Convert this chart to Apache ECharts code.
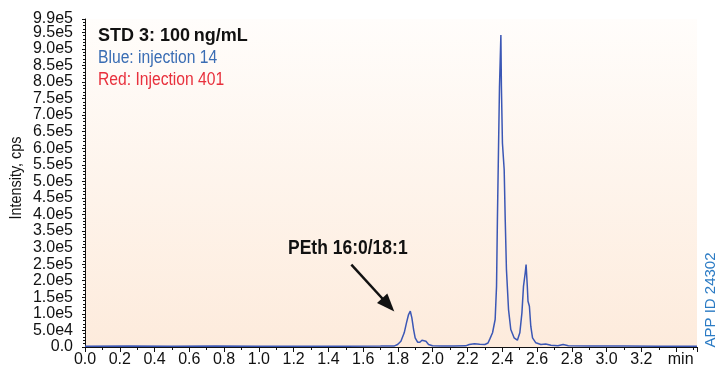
<!DOCTYPE html>
<html>
<head>
<meta charset="utf-8">
<script src="https://cdn.jsdelivr.net/npm/echarts@6/dist/echarts.min.js"></script>
<style>
  html, body { margin: 0; padding: 0; background: #ffffff; }
  #chart { width: 720px; height: 368px; }
</style>
</head>
<body>
<div id="chart"></div>
<script>
// Extracted ion chromatogram, STD 3 (100 ng/mL), injection 14
const retentionTimes = [
  0.00, 0.25, 0.50, 0.75, 1.00, 1.25, 1.50, 1.70, 1.78,
  1.798, 1.817, 1.836, 1.849, 1.861, 1.871, 1.880, 1.890, 1.899,
  1.913, 1.926, 1.938, 1.949, 1.961, 1.976, 1.999,
  2.05, 2.12, 2.19, 2.21, 2.24, 2.27, 2.30,
  2.318, 2.330, 2.344, 2.359, 2.367, 2.372, 2.378, 2.384, 2.392,
  2.395, 2.401, 2.411, 2.417, 2.424, 2.436, 2.449, 2.468, 2.487,
  2.501, 2.513, 2.522, 2.532, 2.537, 2.544, 2.548, 2.556, 2.564,
  2.574, 2.593, 2.622, 2.650, 2.680, 2.720, 2.750, 2.780,
  2.90, 3.10, 3.30, 3.52
];
const intensityInj14 = [
  2500, 2800, 2300, 2700, 2400, 2600, 2500, 2700, 3200,
  7500, 17500, 42800, 72900, 98000, 108000, 88000, 52700, 27700,
  14500, 14500, 20500, 24700, 17500, 7500, 4000,
  3000, 3200, 3500, 7500, 10000, 8500, 7500,
  12000, 26000, 43000, 83000, 183000, 384000, 586000, 786000, 942000,
  786000, 615000, 535000, 384000, 234000, 113000, 52700, 27700, 20500,
  42800, 103000, 183000, 224000, 249000, 183000, 138000, 123000, 62700,
  27700, 12700, 7500, 9000, 5000, 4000, 7500, 4000,
  3000, 2800, 2600, 2500
];

// Axis ranges
const timeRange = [0, 3.52];
const timeStep = 0.2;
const intensityRange = [0, 990000];
const intensityStep = 50000;
const timeUnitAt = 3.4;        // tick position that carries the unit label
const timeUnitLabel = 'min';

// Annotation arrow (data coordinates: [min, cps])
const peakLabel = 'PEth 16:0/18:1';
const arrowTail = [1.532, 248700];
const arrowTip = [1.779, 107000];

const chart = echarts.init(document.getElementById('chart'), null, { renderer: 'canvas' });

const textFont = '"Liberation Sans", Arial, sans-serif';
const labelMargin = 12;

function intensityLabel(v) {
  if (v === 0) return '0.0';
  return v.toExponential(1).replace('e+', 'e');
}

chart.setOption({
  animation: false,
  backgroundColor: '#ffffff',
  grid: {
    left: 85, right: 23, top: 19, bottom: 20,
    show: true,
    borderWidth: 0,
    backgroundColor: new echarts.graphic.LinearGradient(0, 0, 0, 1, [
      { offset: 0, color: '#fffdfb' },
      { offset: 1, color: '#fdebdc' }
    ])
  },
  xAxis: {
    type: 'value',
    min: timeRange[0],
    max: timeRange[1],
    interval: timeStep,
    splitLine: { show: false },
    axisLine: { show: true, onZero: false, lineStyle: { color: '#111111', width: 1 } },
    axisTick: { show: true, length: 5, lineStyle: { color: '#111111' } },
    minorTick: { show: true, splitNumber: 2, length: 3, lineStyle: { color: '#111111' } },
    axisLabel: {
      color: '#111111',
      fontFamily: textFont,
      fontSize: 16,
      margin: 5,
      rich: { unit: { fontSize: 16, fontFamily: textFont, color: '#111111', padding: [0, 0, 0, 9] } },
      formatter: function (v) {
        if (Math.abs(v - timeUnitAt) < 1e-6) return '{unit|' + timeUnitLabel + '}';
        if (v > 3.3) return '';
        return v.toFixed(1);
      }
    }
  },
  yAxis: {
    type: 'value',
    min: intensityRange[0],
    max: intensityRange[1],
    interval: intensityStep,
    splitLine: { show: false },
    axisLine: { show: true, lineStyle: { color: '#111111', width: 1 } },
    axisTick: { show: true, length: 3, lineStyle: { color: '#111111' } },
    minorTick: { show: true, splitNumber: 5, length: 2, lineStyle: { color: '#111111' } },
    axisLabel: {
      color: '#111111',
      fontFamily: textFont,
      fontSize: 16,
      margin: labelMargin,
      showMaxLabel: false,
      formatter: intensityLabel
    }
  },
  series: [{
    name: 'Blue: injection 14',
    type: 'line',
    data: retentionTimes.map(function (t, i) { return [t, intensityInj14[i]]; }),
    showSymbol: false,
    smooth: false,
    lineStyle: { color: '#3b57b5', width: 1.5 },
    z: 3
  }]
});

// Arrow pointing at the PEth peak, placed from data coordinates
const tail = chart.convertToPixel({ gridIndex: 0 }, arrowTail);
const tip = chart.convertToPixel({ gridIndex: 0 }, arrowTip);
const dx = tip[0] - tail[0], dy = tip[1] - tail[1];
const len = Math.sqrt(dx * dx + dy * dy);
const ux = dx / len, uy = dy / len;
const headLen = 18, headHalf = 7;
const base = [tip[0] - ux * headLen, tip[1] - uy * headLen];

// Top-of-axis label (sits closer than one interval to its neighbour)
const topPos = chart.convertToPixel({ gridIndex: 0 }, [0, intensityRange[1]]);
const axisX = chart.convertToPixel({ gridIndex: 0 }, [timeRange[0], 0])[0];

chart.setOption({
  graphic: [
    {
      type: 'text', x: axisX - labelMargin, y: topPos[1],
      style: { text: intensityLabel(intensityRange[1]), font: '16px ' + textFont, fill: '#111111', textAlign: 'right', textVerticalAlign: 'middle' }
    },
    {
      type: 'text', x: 98, y: 36,
      style: { text: 'STD 3: 100\u2009ng/mL', font: 'bold 18px ' + textFont, fill: '#111111', textVerticalAlign: 'middle' }
    },
    {
      type: 'text', x: 98, y: 58, scaleX: 0.87,
      style: { text: 'Blue: injection 14', font: '18px ' + textFont, fill: '#3a6db4', textVerticalAlign: 'middle' }
    },
    {
      type: 'text', x: 98, y: 80, scaleX: 0.87,
      style: { text: 'Red: Injection 401', font: '18px ' + textFont, fill: '#e8303c', textVerticalAlign: 'middle' }
    },
    {
      type: 'text', x: 288, y: 248, scaleX: 0.875,
      style: { text: peakLabel, font: 'bold 20px ' + textFont, fill: '#111111', textVerticalAlign: 'middle' }
    },
    {
      type: 'line',
      shape: { x1: tail[0], y1: tail[1], x2: base[0] + ux * 2, y2: base[1] + uy * 2 },
      style: { stroke: '#111111', lineWidth: 2.5 }
    },
    {
      type: 'polygon',
      shape: {
        points: [
          tip,
          [base[0] - uy * headHalf, base[1] + ux * headHalf],
          [base[0] + uy * headHalf, base[1] - ux * headHalf]
        ]
      },
      style: { fill: '#111111' }
    },
    {
      type: 'text', x: 17, y: 178, rotation: Math.PI / 2, scaleX: 0.9,
      style: { text: 'Intensity, cps', font: '16px ' + textFont, fill: '#111111', textAlign: 'center', textVerticalAlign: 'middle' }
    },
    {
      type: 'text', x: 711, y: 300, rotation: Math.PI / 2,
      style: { text: 'APP ID 24302', font: '15px ' + textFont, fill: '#2b7bc4', textAlign: 'center', textVerticalAlign: 'middle' }
    }
  ]
});
</script>
</body>
</html>
